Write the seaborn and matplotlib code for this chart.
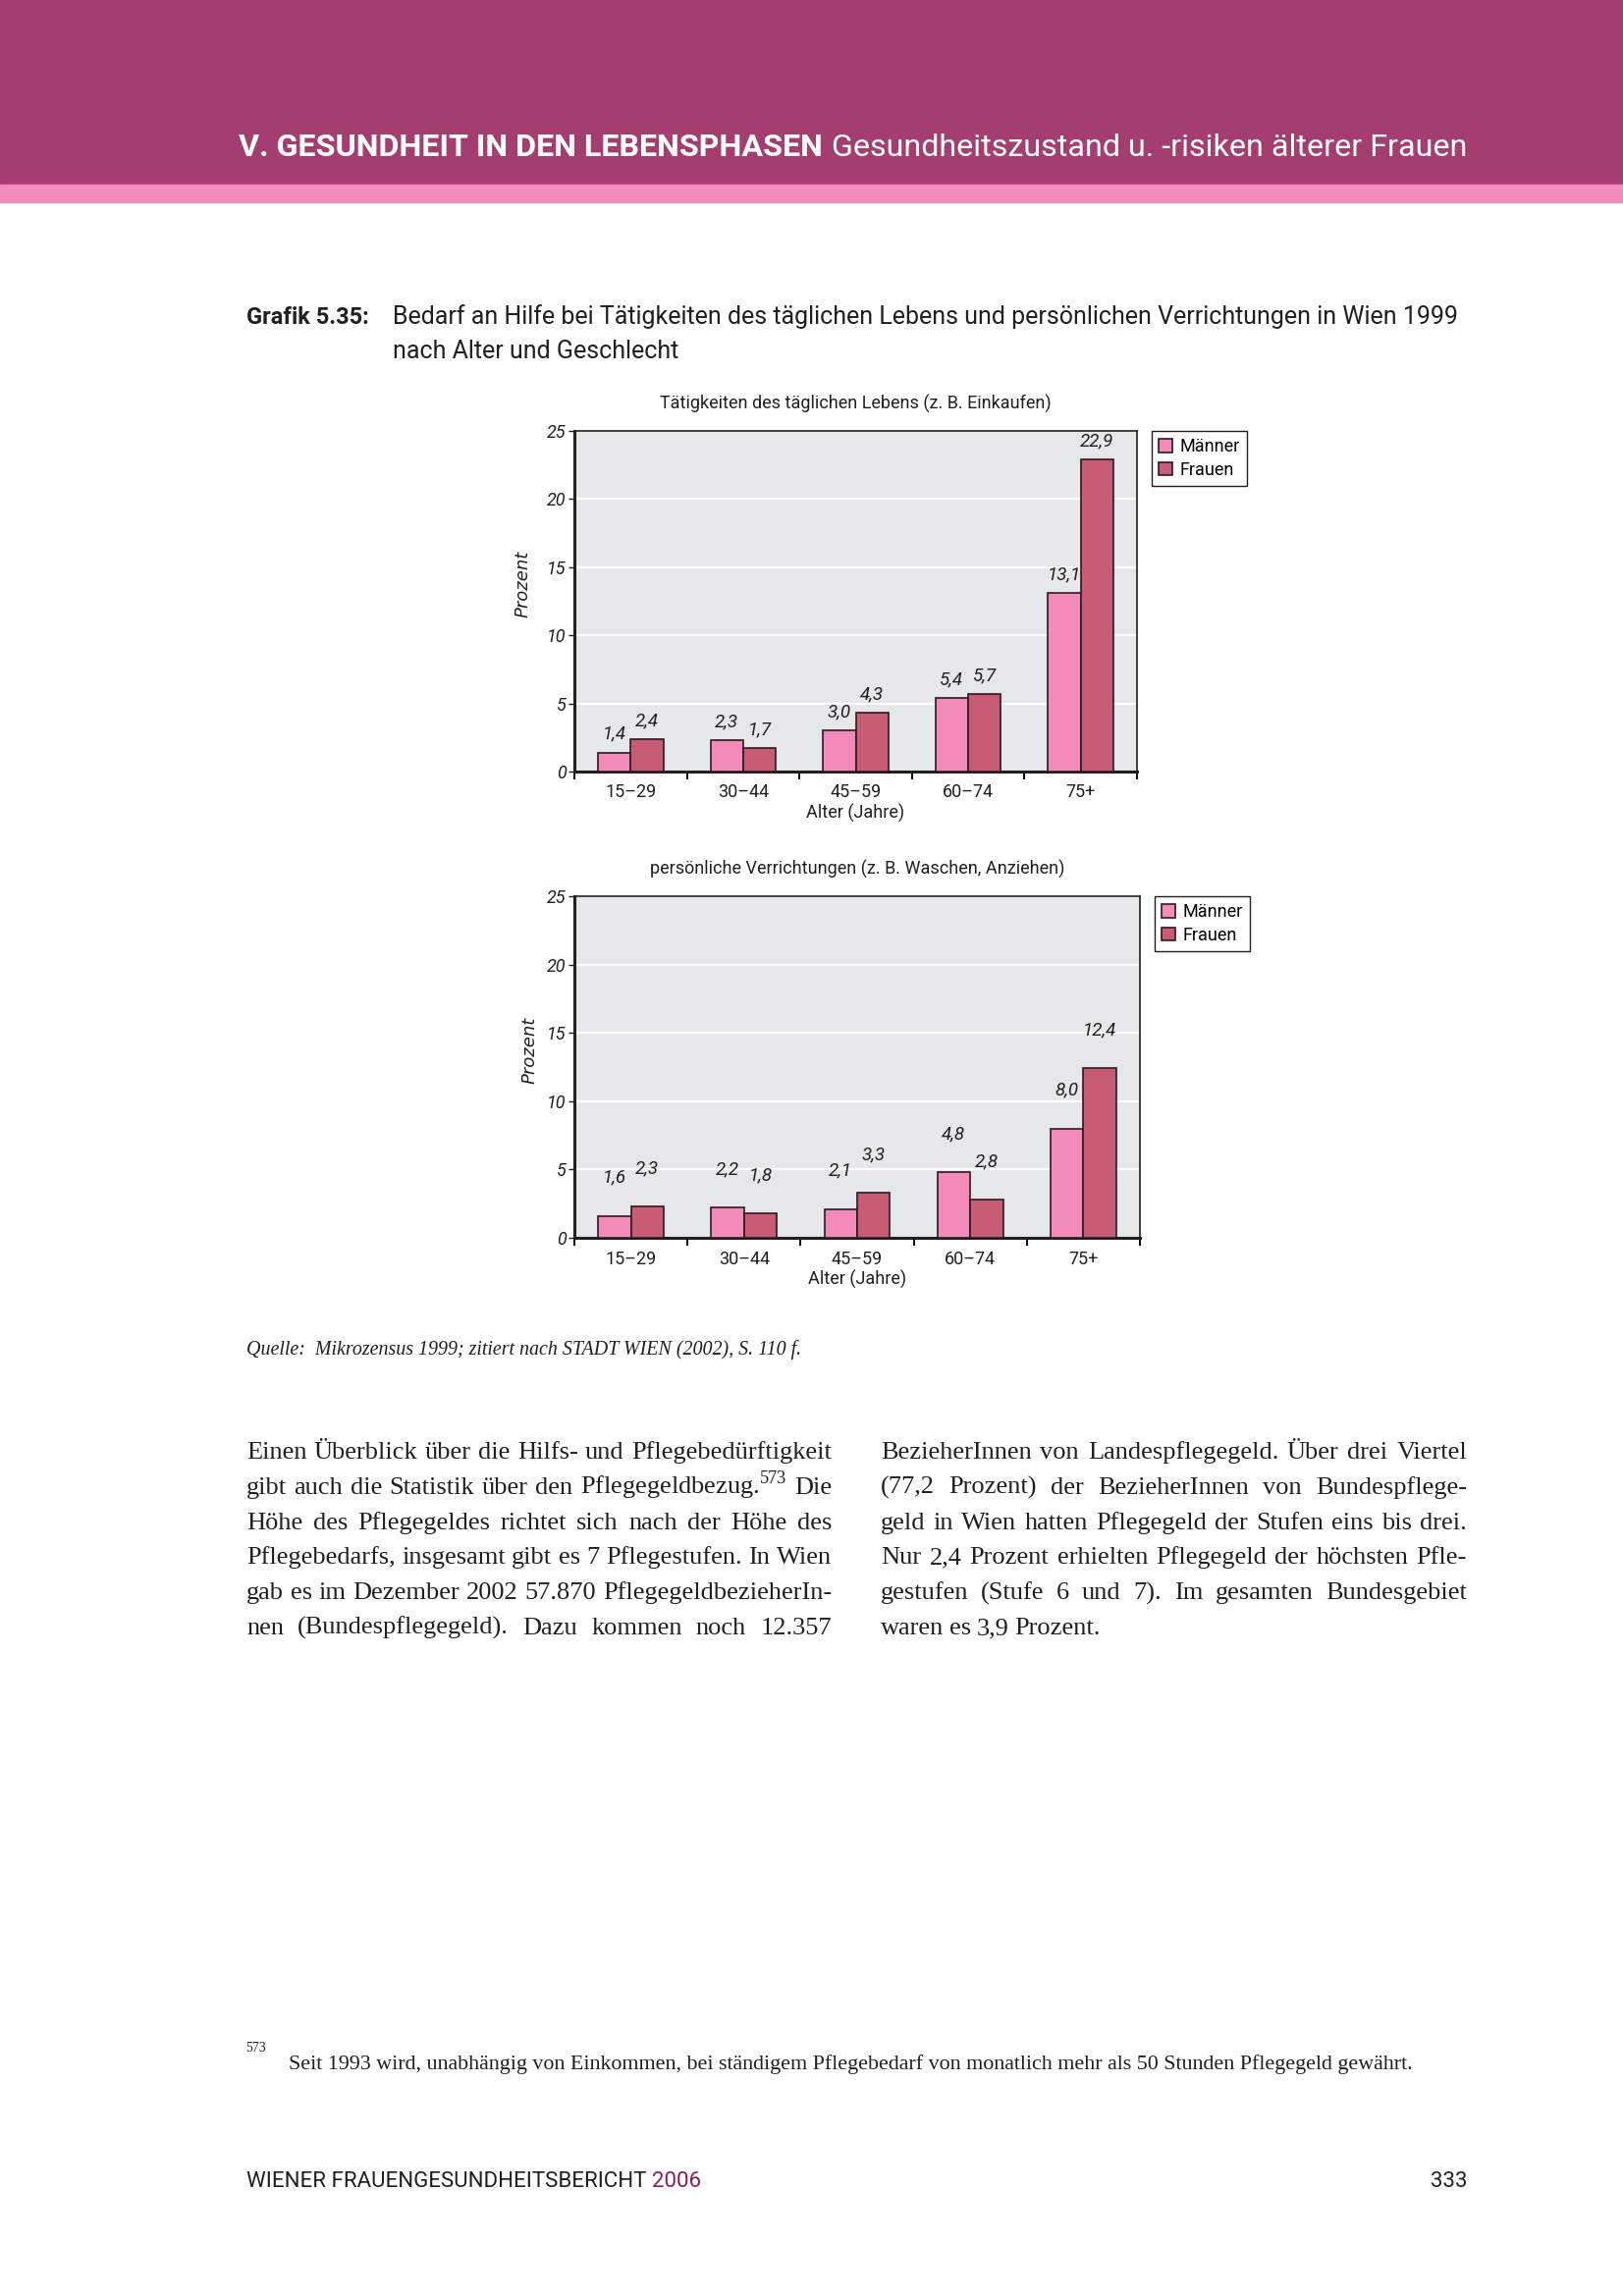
import pandas as pd
import seaborn as sns
import matplotlib.pyplot as plt
import numpy as np
from matplotlib.patches import Rectangle

# data
alter = ['15–29', '30–44', '45–59', '60–74', '75+']
taeglich_maenner = [1.4, 2.3, 3.0, 5.4, 13.1]
taeglich_frauen = [2.4, 1.7, 4.3, 5.7, 22.9]
persoenlich_maenner = [1.6, 2.2, 2.1, 4.8, 8.0]
persoenlich_frauen = [2.3, 1.8, 3.3, 2.8, 12.4]
geschlecht = ['Männer', 'Frauen']
y_ticks = [0, 5, 10, 15, 20, 25]

W, H = 1653, 2339
SANS = ['Roboto', 'DejaVu Sans']
SERIF = ['Liberation Serif', 'DejaVu Serif']
plt.rcParams['font.family'] = SANS
plt.rcParams['mathtext.fontset'] = 'custom'
plt.rcParams['mathtext.rm'] = 'Liberation Serif'

farben = {'Männer': '#F28BB9', 'Frauen': '#C75C74'}

fig = plt.figure(figsize=(W / 100, H / 100), dpi=100)


def fx(x):
    return x / W


def fy(y):
    return 1 - y / H


# header band
fig.add_artist(Rectangle((0, fy(188)), 1, 188 / H, transform=fig.transFigure,
                         color='#A53E70', zorder=0))
fig.add_artist(Rectangle((0, fy(206)), 1, 18 / H, transform=fig.transFigure,
                         color='#F28BB9', zorder=0))
renderer = fig.canvas.get_renderer()
t_reg = fig.text(fx(1494), fy(159), 'Gesundheitszustand u. -risiken älterer Frauen',
                 color='white', fontsize=23.2, ha='right', va='baseline')
bb = t_reg.get_window_extent(renderer)
fig.text(fx(bb.x0 - 9), fy(159), 'V. GESUNDHEIT IN DEN LEBENSPHASEN', color='white',
         fontsize=23.2, fontweight='bold', ha='right', va='baseline')

# chart caption
fig.text(fx(251), fy(330), 'Grafik 5.35:', fontsize=17, fontweight='bold',
         color='#231f20', va='baseline')
fig.text(fx(400), fy(330), 'Bedarf an Hilfe bei Tätigkeiten des täglichen Lebens und '
         'persönlichen Verrichtungen in Wien 1999', fontsize=18, color='#231f20',
         va='baseline')
fig.text(fx(400), fy(365), 'nach Alter und Geschlecht', fontsize=18, color='#231f20',
         va='baseline')


def draw_panel(rect, maenner, frauen, titel, offset, ylab_x):
    df = pd.DataFrame({
        'Alter': alter * 2,
        'Prozent': maenner + frauen,
        'Geschlecht': ['Männer'] * len(alter) + ['Frauen'] * len(alter),
    })
    ax = fig.add_axes(rect)
    ax.set_facecolor('#E6E7E9')
    sns.barplot(data=df, x='Alter', y='Prozent', hue='Geschlecht', order=alter,
                hue_order=geschlecht, palette=farben, width=0.58, saturation=1,
                edgecolor='#2a1a22', linewidth=1.2, ax=ax, zorder=3)

    # value labels above bars
    for cont in ax.containers:
        for bar in cont:
            h = bar.get_height()
            ax.text(bar.get_x() + bar.get_width() / 2, h + offset,
                    f'{h:.1f}'.replace('.', ','), ha='center', va='center',
                    fontsize=13.5, style='italic', color='#231f20', zorder=4)

    ax.set_ylim(0, 25)
    ax.set_xlim(-0.5, len(alter) - 0.5)
    ax.set_yticks(y_ticks)
    ax.set_yticklabels([str(v) for v in y_ticks], style='italic', fontsize=13)
    ax.yaxis.grid(True, color='white', linewidth=1.6)
    ax.xaxis.grid(False)
    ax.set_axisbelow(True)
    ax.tick_params(axis='y', length=4, width=1, pad=2, colors='#231f20')
    ax.tick_params(axis='x', which='major', length=0, pad=9, labelsize=13,
                   colors='#231f20')
    ax.set_xticks(np.arange(-0.5, len(alter), 1), minor=True)
    ax.tick_params(axis='x', which='minor', length=6, width=1.4, direction='out')

    for side in ['top', 'right']:
        ax.spines[side].set_linewidth(1.2)
    for side in ['left', 'bottom']:
        ax.spines[side].set_linewidth(2.2)
    for sp in ax.spines.values():
        sp.set_color('#231f20')

    ax.set_xlabel('Alter (Jahre)', fontsize=13, labelpad=2, color='#231f20')
    ax.set_ylabel('Prozent', fontsize=13, style='italic', color='#231f20',
                  family=['DejaVu Sans'])
    ax.yaxis.set_label_coords(ylab_x, 0.55)
    ax.set_title(titel, fontsize=13, pad=16, color='#231f20')

    handles, labels = ax.get_legend_handles_labels()
    leg = ax.legend(handles, labels, loc='upper left', bbox_to_anchor=(1.026, 1.0),
                    borderaxespad=0, frameon=True, fancybox=False, edgecolor='#231f20',
                    framealpha=1, handlelength=0.75, handleheight=0.75,
                    handletextpad=0.45, borderpad=0.4, labelspacing=0.3, fontsize=13)
    leg.get_frame().set_linewidth(1.0)
    return ax


draw_panel([fx(585), fy(786), 573 / W, 347 / H], taeglich_maenner, taeglich_frauen,
           'Tätigkeiten des täglichen Lebens (z. B. Einkaufen)', 1.35, -0.076)
draw_panel([fx(585), fy(1261), 576 / W, 348 / H], persoenlich_maenner, persoenlich_frauen,
           'persönliche Verrichtungen (z. B. Waschen, Anziehen)', 2.8, -0.064)

# source line
fig.text(fx(251), fy(1380), 'Quelle:  Mikrozensus 1999; zitiert nach STADT WIEN (2002), S. 110 f.',
         family=SERIF, style='italic', fontsize=14.4, color='#231f20', va='baseline')

# body text, justified in two columns
links = [
    'Einen Überblick über die Hilfs- und Pflegebedürftigkeit',
    'gibt auch die Statistik über den Pflegegeldbezug.$^{573}$ Die',
    'Höhe des Pflegegeldes richtet sich nach der Höhe des',
    'Pflegebedarfs, insgesamt gibt es 7 Pflegestufen. In Wien',
    'gab es im Dezember 2002 57.870 PflegegeldbezieherIn-',
    'nen (Bundespflegegeld). Dazu kommen noch 12.357',
]
rechts = [
    'BezieherInnen von Landespflegegeld. Über drei Viertel',
    '(77,2 Prozent) der BezieherInnen von Bundespflege-',
    'geld in Wien hatten Pflegegeld der Stufen eins bis drei.',
    'Nur 2,4 Prozent erhielten Pflegegeld der höchsten Pfle-',
    'gestufen (Stufe 6 und 7). Im gesamten Bundesgebiet',
    'waren es 3,9 Prozent.',
]


def justify(line, x0, x1, y, size, last=False):
    words = line.split(' ')
    arts = [fig.text(0, fy(y), w, family=SERIF, fontsize=size, color='#231f20',
                     va='baseline') for w in words]
    widths = [a.get_window_extent(renderer).width for a in arts]
    if last or len(words) == 1:
        gap = size * 0.3
    else:
        gap = (x1 - x0 - sum(widths)) / (len(words) - 1)
    x = x0
    for a, wd in zip(arts, widths):
        a.set_x(fx(x))
        x += wd + gap


for i, line in enumerate(links):
    justify(line, 251, 847, 1486 + 35.8 * i, 19)
for i, line in enumerate(rechts):
    justify(line, 897, 1494, 1486 + 35.8 * i, 19, last=(i == len(rechts) - 1))

# footnote
fig.text(fx(250), fy(2090), '573', family=SERIF, fontsize=10, color='#231f20', va='baseline')
fig.text(fx(294), fy(2108), 'Seit 1993 wird, unabhängig von Einkommen, bei ständigem '
         'Pflegebedarf von monatlich mehr als 50 Stunden Pflegegeld gewährt.',
         family=SERIF, fontsize=15.8, color='#231f20', va='baseline')

# footer
t_f = fig.text(fx(251), fy(2228), 'WIENER FRAUENGESUNDHEITSBERICHT', fontsize=16,
               color='#231f20', va='baseline')
bb = t_f.get_window_extent(renderer)
fig.text(fx(bb.x1 + 6), fy(2228), '2006', fontsize=16, color='#8C1D5E', va='baseline')
fig.text(fx(1494), fy(2228), '333', fontsize=16, color='#231f20', ha='right',
         va='baseline')

fig.savefig('out.png', dpi=100)
